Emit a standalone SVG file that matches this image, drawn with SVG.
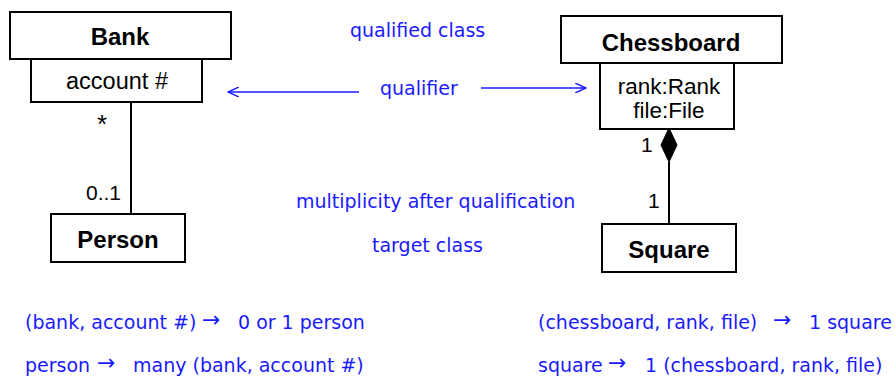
<svg xmlns="http://www.w3.org/2000/svg" width="895" height="376" viewBox="0 0 895 376">
<style>
.box{fill:#fff;stroke:#000;stroke-width:2}
.bt{font-family:"Liberation Sans",Arial,sans-serif;font-weight:bold;font-size:24px;fill:#000;text-anchor:middle}
.nt{font-family:"Liberation Sans",Arial,sans-serif;font-size:22.5px;fill:#000;text-anchor:middle}
.lb{font-family:"Liberation Sans",Arial,sans-serif;font-size:21px;fill:#000}
.bl{font-family:"DejaVu Sans",sans-serif;font-size:19px;fill:#1a1aff}
.ar{font-family:"DejaVu Sans",sans-serif;font-size:22px;fill:#1a1aff}
.ln{stroke:#000;stroke-width:2;fill:none}
.bln{stroke:#1a1aff;stroke-width:1.5;fill:none}
</style>
<defs>
<marker id="open" viewBox="0 0 12 10" refX="11" refY="5" markerWidth="12" markerHeight="10" markerUnits="userSpaceOnUse" orient="auto">
<path d="M0,0 L11,5 L0,10" fill="none" stroke="#1a1aff" stroke-width="1.5"/>
</marker>
</defs>
<g id="connectors">
<line class="ln" x1="131" y1="102" x2="131" y2="214"/>
<line class="ln" x1="669" y1="162" x2="669" y2="224"/>
<path d="M669,128 L677,145 L669,162 L661,145 Z" fill="#000" stroke="#000" stroke-width="1"/>
<line class="bln" x1="359" y1="92" x2="228" y2="92" marker-end="url(#open)"/>
<line class="bln" x1="481" y1="88" x2="586" y2="88" marker-end="url(#open)"/>
</g>
<g id="bank">
<rect class="box" x="10" y="12" width="221" height="47"/>
<text class="bt" x="120" y="45">Bank</text>
</g>
<g id="bank-qualifier">
<rect class="box" x="31" y="59" width="171" height="43"/>
<text class="nt" x="117" y="89" style="font-size:23.5px">account #</text>
</g>
<g id="person">
<rect class="box" x="51" y="214" width="134" height="48"/>
<text class="bt" x="118" y="248">Person</text>
</g>
<g id="chessboard">
<rect class="box" x="561" y="16" width="221" height="47"/>
<text class="bt" x="671" y="51">Chessboard</text>
</g>
<g id="chessboard-qualifier">
<rect class="box" x="600" y="63" width="134" height="66"/>
<text class="nt" x="669" y="94">rank:Rank</text>
<text class="nt" x="669" y="118">file:File</text>
</g>
<g id="square">
<rect class="box" x="602" y="224" width="134" height="48"/>
<text class="bt" x="669" y="258">Square</text>
</g>
<g id="labels">
<text class="lb" x="97" y="133" style="font-size:26px">*</text>
<text class="lb" x="86" y="200">0..1</text>
<text class="lb" x="641" y="152">1</text>
<text class="lb" x="648" y="208">1</text>
<text class="bl" x="350" y="37">qualified class</text>
<text class="bl" x="380" y="95">qualifier</text>
<text class="bl" x="296" y="208">multiplicity after qualification</text>
<text class="bl" x="372" y="252">target class</text>
<text class="bl" x="25" y="329">(bank, account #) <tspan class="ar" x="202" y="327">→</tspan> <tspan x="238" y="329">0 or 1 person</tspan></text>
<text class="bl" x="25" y="372">person <tspan class="ar" x="97" y="370">→</tspan> <tspan x="133" y="372">many (bank, account #)</tspan></text>
<text class="bl" x="538" y="329">(chessboard, rank, file) <tspan class="ar" x="773" y="327">→</tspan> <tspan x="809" y="329">1 square</tspan></text>
<text class="bl" x="538" y="372">square <tspan class="ar" x="608" y="370">→</tspan> <tspan x="645" y="372">1 (chessboard, rank, file)</tspan></text>
</g>
</svg>
